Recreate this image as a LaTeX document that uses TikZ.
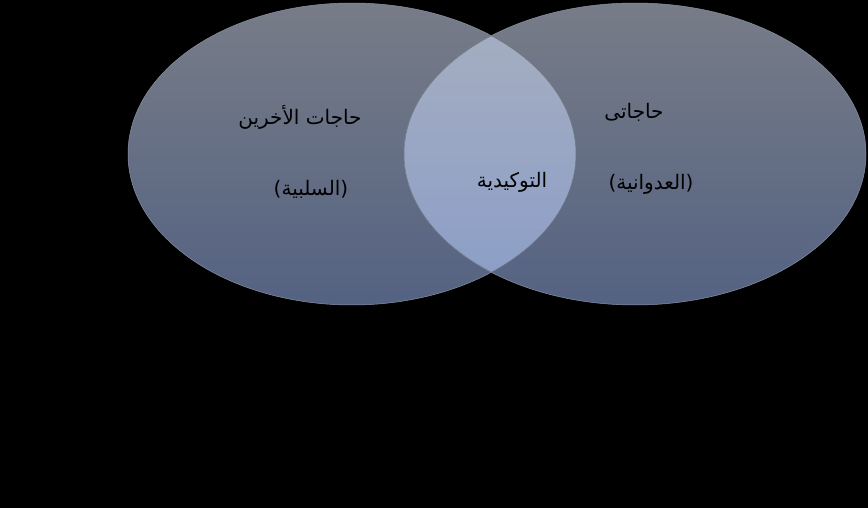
\documentclass[tikz,border=0pt]{standalone}
\usepackage{fontspec}
\newfontfamily\arabicfont[Script=Arabic]{DejaVu Sans}
\TeXXeTstate=1
\usetikzlibrary{shapes.geometric}
\definecolor{elltop}{RGB}{119,124,135}
\definecolor{ellbot}{RGB}{84,98,130}
\definecolor{lenstop}{RGB}{167,175,192}
\definecolor{lensbot}{RGB}{138,157,200}
\definecolor{rim}{RGB}{138,146,163}
\tikzset{
  venn/.style={top color=elltop, bottom color=ellbot, draw=rim, line width=0.5pt},
  lens/.style={top color=lenstop, bottom color=lensbot},
  lbl/.style={font=\arabicfont\fontsize{20}{24}\selectfont, text=black, inner sep=0pt}
}
\begin{document}
\begin{tikzpicture}[x=1pt,y=-1pt]
\useasboundingbox (0,0) rectangle (868,508);
\fill[black] (0,0) rectangle (868,508);
\path[venn] (352,154) ellipse [x radius=224pt, y radius=151pt];
\path[venn] (635,154) ellipse [x radius=231pt, y radius=151pt];
\begin{scope}
  \clip (352,154) ellipse [x radius=224pt, y radius=151pt];
  \path[lens] (635,154) ellipse [x radius=231pt, y radius=151pt];
  \draw[rim!80!black, line width=0.5pt] (635,154) ellipse [x radius=231pt, y radius=151pt];
\end{scope}
\begin{scope}
  \clip (635,154) ellipse [x radius=231pt, y radius=151pt];
  \draw[rim!80!black, line width=0.5pt] (352,154) ellipse [x radius=224pt, y radius=151pt];
\end{scope}
\node[lbl] (others) at (300,117) {\beginR حاجات الأخرين\endR};
\node[lbl] (passive) at (311,189) {\beginR(السلبية)\endR};
\node[lbl] (assert) at (512,182) {\beginR التوكيدية\endR};
\node[lbl] (mine) at (634,112) {\beginR حاجاتى\endR};
\node[lbl] (aggr) at (651,184) {\beginR(العدوانية)\endR};
\end{tikzpicture}
\end{document}
